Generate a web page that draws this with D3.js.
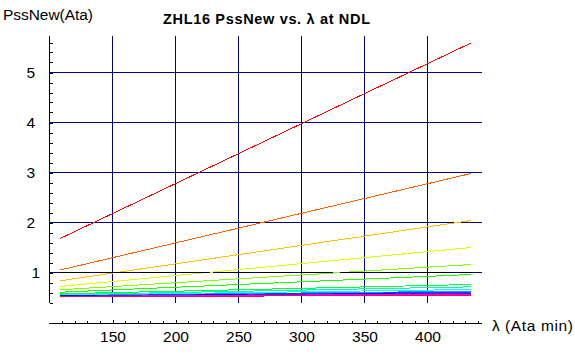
<!DOCTYPE html>
<html><head><meta charset="utf-8">
<script src="https://cdn.jsdelivr.net/npm/d3@7"></script>
<style>
html,body{margin:0;padding:0;background:#fff;}
svg{display:block;font-family:"Liberation Sans",Arial,sans-serif;}
</style></head>
<body><div id="chart"></div>
<script>
// ---- data ----
const lambdaValues = [108.5, 434.5];           // λ (Ata min) at start / end of each curve
const compartments = ["1","2","3","4","5","6","7","8","9","10","11","12","13","14","15","16"];
const pssAtStart = [1.68, 1.05, 0.834, 0.72, 0.654, 0.606, 0.574, 0.556, 0.548, 0.54, 0.535, 0.53, 0.525, 0.52, 0.515, 0.51];
const pssAtEnd   = [5.59, 2.98, 2.04, 1.50, 1.16, 0.96, 0.76, 0.713, 0.66, 0.625, 0.605, 0.59, 0.58, 0.57, 0.56, 0.55];
const xTickValues = [150, 200, 250, 300, 350, 400];
const yTickValues = [1, 2, 3, 4, 5];
const referenceLevel = 1.0;

const W = 575, H = 355;
const svg = d3.select("#chart").append("svg").attr("width", W).attr("height", H);

const x = d3.scaleLinear().domain([100, 400]).range([49.5, 427.5]);
const y = d3.scaleLinear().domain([1, 5]).range([272.5, 72.5]);
const xMax = 443, yMin = 0.39, yMax = 5.73;
const navy = "#000080";

// grid
const g = svg.append("g").attr("shape-rendering", "crispEdges");
g.selectAll("line.vg").data(xTickValues).join("line")
  .attr("x1", d => x(d)).attr("x2", d => x(d))
  .attr("y1", y(yMax)).attr("y2", y(yMin))
  .attr("stroke", navy).attr("stroke-width", 1);
g.selectAll("line.hg").data(yTickValues).join("line")
  .attr("x1", x(100)).attr("x2", x(xMax))
  .attr("y1", d => y(d)).attr("y2", d => y(d))
  .attr("stroke", navy).attr("stroke-width", 1);

// curves
const series = compartments.map((c, i) => ({
  name: c,
  color: d3.hsl(i / 16 * 360, 1, 0.5).toString(),
  pts: [[lambdaValues[0], pssAtStart[i]], [lambdaValues[1], pssAtEnd[i]]]
}));
const line = d3.line().x(d => x(d[0])).y(d => y(d[1]));
svg.append("g").attr("shape-rendering", "crispEdges")
  .selectAll("path").data(series).join("path")
  .attr("d", d => line(d.pts)).attr("fill", "none")
  .attr("stroke", d => d.color).attr("stroke-width", 1);

// reference dashed line at 1 Ata
svg.append("path").attr("shape-rendering", "crispEdges")
  .attr("d", line([[lambdaValues[0], referenceLevel], [lambdaValues[1], referenceLevel]]))
  .attr("stroke", "#000").attr("stroke-width", 1).attr("fill", "none")
  .attr("stroke-dasharray", "30,10");

// y axis
const yAxisG = svg.append("g").attr("shape-rendering", "crispEdges");
yAxisG.append("line").attr("x1", 49.5).attr("x2", 49.5).attr("y1", y(yMax)).attr("y2", y(yMin)).attr("stroke", "#000");
const yMinor = d3.range(0.4, 5.7, 0.2).map(v => +v.toFixed(1));
yAxisG.selectAll("line.t").data(yMinor).join("line")
  .attr("x1", 49.5).attr("x2", 52.5).attr("y1", d => Math.round(y(d)) + 0.5).attr("y2", d => Math.round(y(d)) + 0.5)
  .attr("stroke", "#000");
const yAx = d3.axisLeft(y).tickValues(yTickValues).tickSize(0).tickPadding(0).tickFormat(d3.format("d"));
const ya = svg.append("g").attr("transform", "translate(35,0)").call(yAx);
ya.select(".domain").remove();
ya.selectAll("text").attr("font-size", 15.5).attr("font-family", "Liberation Sans, Arial, sans-serif").attr("fill", "#000")
  .attr("dx", d => d === 1 ? 5 : 0);

// x axis
const xAxisY = 323.5;
const xAxisG = svg.append("g").attr("shape-rendering", "crispEdges");
xAxisG.append("line").attr("x1", 49).attr("x2", x(xMax)).attr("y1", xAxisY).attr("y2", xAxisY).attr("stroke", "#000");
const xMinor = d3.range(110, 441, 10);
xAxisG.selectAll("line.t").data(xMinor).join("line")
  .attr("x1", d => Math.round(x(d)) + 0.5).attr("x2", d => Math.round(x(d)) + 0.5)
  .attr("y1", xAxisY).attr("y2", d => xAxisY - (d % 50 === 0 ? 4 : 3))
  .attr("stroke", "#000");
const xAx = d3.axisBottom(x).tickValues(xTickValues).tickSize(0).tickPadding(0).tickFormat(d3.format("d"));
const xa = svg.append("g").attr("transform", `translate(0,${xAxisY + 7})`).call(xAx);
xa.select(".domain").remove();
xa.selectAll("text").attr("font-size", 15.5).attr("font-family", "Liberation Sans, Arial, sans-serif").attr("fill", "#000");

// labels
svg.append("text").attr("x", 3).attr("y", 20).attr("font-size", 15.5)
  .attr("textLength", 90).attr("lengthAdjust", "spacing").text("PssNew(Ata)");
svg.append("text").attr("x", 163).attr("y", 24)
  .attr("font-size", 14.5).attr("font-weight", "bold")
  .attr("textLength", 207).attr("lengthAdjust", "spacing").text("ZHL16 PssNew vs. λ at NDL");
const xl = svg.append("text").attr("x", 492).attr("y", 330.5).attr("font-size", 15.5);
xl.append("tspan").text("λ");
xl.append("tspan").attr("x", 505).attr("textLength", 68).attr("lengthAdjust", "spacing").text("(Ata min)");
</script></body></html>
